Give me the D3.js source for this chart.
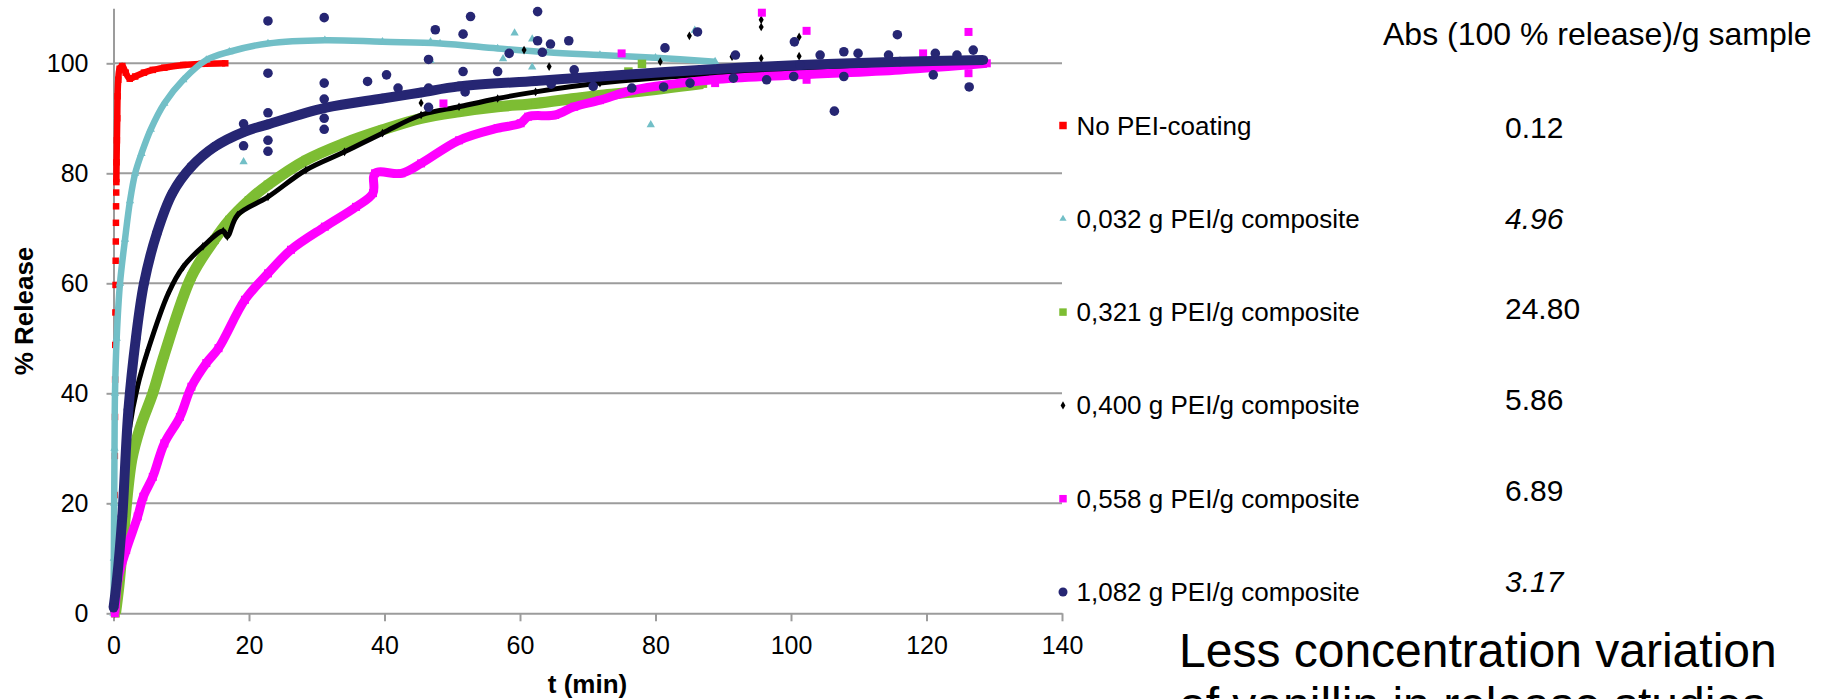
<!DOCTYPE html>
<html lang="en">
<head>
<meta charset="UTF-8">
<title>Vanillin release, PEI coated composites</title>
<script src="https://cdn.jsdelivr.net/npm/d3@7"></script>
<style>
    body { margin: 0; background: #fff; }
    svg { display: block; font-family: "Liberation Sans", Arial, sans-serif; }
</style>
</head>
<body>
<div id="chart"></div>
<script>
// release curves: [t (min), % release]
const noPei = [[0.1,0],[0.12,4.8],[0.14,9.3],[0.16,14.8],[0.18,21.5],[0.2,28.6],[0.22,35.7],[0.24,42.5],
    [0.26,48.8],[0.28,54.7],[0.3,59.7],[0.32,64.1],[0.34,67.6],[0.36,71],[0.38,74],[0.4,76.5],[0.42,78.4],
    [0.45,82],[0.5,86],[0.55,90],[0.6,94],[0.7,97],[0.9,99],[1.3,99.5],[1.8,98.3],[2.4,97.2],[3.2,97.6],
    [4.5,98.3],[5.8,98.8],[7.5,99.2],[10.3,99.7],[13,99.9],[16.5,100]];

const pei032 = [[0,0],[0.05,10],[0.1,20],[0.15,30],[0.22,40],[0.47,50],[0.96,60],[1.7,68],[2.44,75],[3.2,80],
    [4.13,83.6],[5.5,88],[7.5,92.7],[10.3,97],[13.7,100.6],[17.1,102.1],[22.8,103.6],[31.2,104.2],[39.7,103.9],
    [48.2,103.6],[56.7,102.7],[64,102],[71.8,101.5],[80,101],[88.8,100.3]];
const pei032Out = [[19.2,82.1],[46.8,103.9],[46.8,100.5],[57.5,100.8],[59.2,105.5],[61.8,104.4],[61.8,99.3],
    [79.3,88.8],[85.8,106]];

const pei321 = [[0.3,0],[0.8,5],[1.3,11.5],[2.7,27.9],[4,34],[5.8,40],[7.5,47],[11.5,61.2],[14.9,67.9],
    [17.1,71.5],[20,75.1],[22.8,77.9],[28.4,82.4],[34.1,85.5],[39.7,87.9],[45.4,90],[51,91.2],[56.7,92.1],
    [62.3,92.7],[68,93.6],[72,94.2],[77,94.8],[87,96.3]];
const pei321Out = [[78,99.9],[76,98.5]];

const pei400 = [[0.2,0],[0.8,12],[1.5,22],[2.4,33.9],[3.5,41],[5.1,47.9],[8.1,58.2],[10.3,63],[13.2,66.7],
    [16.2,69.5],[16.8,68.5],[18.3,72.4],[22.8,75.7],[28.4,80.6],[34.1,83.9],[39.7,87.3],[45.4,90.6],[51,92.1],
    [56.7,93.6],[62.3,94.8],[71.8,96.4],[85,97.8],[100,98.7],[115,99.2],[126,99.6]];
const pei400Out = [[45.4,92.8],[60.6,102.4],[64.3,99.4],[80.7,100.3],[85,105],[91.3,101.2],[95.6,107.9],
    [95.6,106.6],[95.6,100.9],[101.2,104.8],[101.2,101.3]];

const pei558 = [[0.2,0],[0.74,6.7],[1.87,11.5],[3.57,17.6],[4.4,21.2],[5.8,24.8],[7.5,30.9],[9.8,35.7],
    [11.5,41.2],[13.7,45.5],[15.5,48.2],[19.4,57],[22.8,61.8],[26.2,66.1],[31.2,70.3],[35.8,73.9],[38.3,76.4],
    [38.6,80],[42.5,80],[45.4,81.8],[51,86],[56.7,88.2],[60.1,89.1],[61.2,90.3],[65.2,90.6],[68,92.1],
    [71.8,93.3],[76.7,95.1],[88.5,97],[101.3,97.9],[116.1,98.8],[128.9,100]];
const pei558Out = [[48.7,92.7],[75,101.8],[88.8,96.4],[95.7,109.2],[102.3,105.9],[102.3,97],[119.5,101.8],
    [126.2,105.7],[126.2,98.2]];

const pei1082 = [[0,1],[0.5,6],[1.3,17.6],[2.2,37],[3.3,50],[4.5,60],[6.4,69.1],[8.7,76.4],[11.5,81.2],
    [14.9,84.8],[19.4,87.6],[22.8,88.9],[31.2,91.9],[39.7,93.6],[45.4,94.7],[51,95.8],[62.3,96.8],[71.8,97.6],
    [86.6,98.8],[101.3,99.7],[116.1,100.3],[128.4,100.6]];
const pei1082Out = [[22.8,107.7],[22.8,98.2],[31.1,108.3],[31.1,96.4],[46.5,100.7],[47.5,106.1],[51.6,105.3],
    [52.7,108.5],[58.4,101.8],[62.6,109.4],[62.6,104.1],[63.3,102],[64.5,103.5],[67.2,104.1],[81.4,102.8],
    [86.2,105.7],[100.5,103.9],[106.4,91.3],[115.7,105.2],[126.3,95.7],[126.9,102.4],
    [19.2,85],[19.2,89],[22.8,84],[22.8,86],[22.8,91],[31.1,88],[31.1,90],[31.1,93.5],[46.5,92],[46.5,95.5],
    [37.5,96.7],[40.3,97.9],[42,95.5],[51.6,98.5],[51.9,94.8],[56.7,98.5],[64.6,96.2],[68,98.8],[70.8,95.8],
    [76.5,95.5],[81.2,95.7],[85.1,96.4],[91.5,97.3],[91.8,101.5],[96.4,97],[100.4,97.6],[104.3,101.5],
    [107.8,102.1],[107.8,97.6],[109.9,101.8],[114.4,101.5],[121,97.9],[121.3,101.8],[124.5,101.5]];

const seriesNames = ["No PEI-coating", "0,032 g PEI/g composite", "0,321 g PEI/g composite",
    "0,400 g PEI/g composite", "0,558 g PEI/g composite", "1,082 g PEI/g composite"];
const absValues = ["0.12", "4.96", "24.80", "5.86", "6.89", "3.17"];

const tTicks = [0, 20, 40, 60, 80, 100, 120, 140];
const releaseTicks = [0, 20, 40, 60, 80, 100];

// drawing setup
let width = 1832;
let height = 699;
let gridColor = "#9c9c9c";

let svg = d3.select("#chart").append("svg")
    .attr("width", width)
    .attr("height", height);

let x = d3.scaleLinear().domain([0, 140]).range([113.5, 1062]);
let y = d3.scaleLinear().domain([0, 110]).range([613.3, 8.3]);

// horizontal gridlines
svg.append("g")
    .selectAll("line")
    .data(releaseTicks.filter(d => d > 0))
    .join("line")
    .attr("x1", x(0))
    .attr("x2", x(140))
    .attr("y1", d => y(d))
    .attr("y2", d => y(d))
    .attr("stroke", gridColor)
    .attr("stroke-width", 2);

let xAxis = d3.axisBottom(x).tickValues(tTicks).tickSize(8).tickSizeOuter(0).tickPadding(15);
let yAxis = d3.axisLeft(y).tickValues(releaseTicks).tickSize(7).tickSizeOuter(0).tickPadding(18);

let gx = svg.append("g")
    .attr("transform", `translate(0, ${y(0)})`)
    .call(xAxis);
let gy = svg.append("g")
    .attr("transform", `translate(${x(0)}, 0)`)
    .call(yAxis);

[gx, gy].forEach(g => {
    g.selectAll("path, line").attr("stroke", gridColor).attr("stroke-width", 2);
    g.selectAll("text").attr("fill", "#000").style("font-size", "25px");
});

// series styles, in Excel's drawing order
let styles = [
    { data: noPei, out: [], color: "#ff0000", lineW: 6.5, shape: d3.symbolSquare, size: 42, lineFrom: 78, legendSize: 56 },
    { data: pei032, out: pei032Out, color: "#72bfc7", lineW: 6.5, shape: d3.symbolTriangle, size: 30, lineFrom: -1, legendSize: 22 },
    { data: pei321, out: pei321Out, color: "#7dbd33", lineW: 11, shape: d3.symbolSquare, size: 72, lineFrom: -1, legendSize: 56 },
    { data: pei400, out: pei400Out, color: "#000000", lineW: 5, shape: d3.symbolDiamond, size: 22, lineFrom: -1, legendSize: 20 },
    { data: pei558, out: pei558Out, color: "#ff00ff", lineW: 9, shape: d3.symbolSquare, size: 64, lineFrom: -1, legendSize: 56 },
    { data: pei1082, out: pei1082Out, color: "#262673", lineW: 10, shape: d3.symbolCircle, size: 72, lineFrom: -1, legendSize: 64 }
];

let line = d3.line()
    .x(d => x(d[0]))
    .y(d => y(d[1]))
    .curve(d3.curveCatmullRom.alpha(0.5));

let plot = svg.append("g");

styles.forEach(s => {
    let g = plot.append("g");
    g.append("path")
        .datum(s.data.filter(d => d[1] >= s.lineFrom))
        .attr("d", line)
        .attr("fill", "none")
        .attr("stroke", s.color)
        .attr("stroke-width", s.lineW)
        .attr("stroke-linejoin", "round");
    g.selectAll("path.pt")
        .data(s.data.concat(s.out))
        .join("path")
        .attr("class", "pt")
        .attr("transform", d => `translate(${x(d[0])}, ${y(d[1])})`)
        .attr("d", d3.symbol().type(s.shape).size(s.size))
        .attr("fill", s.color);
});

// legend
let legend = svg.append("g");
seriesNames.forEach((name, i) => {
    let cy = 125.5 + i * 93.3;
    legend.append("path")
        .attr("transform", `translate(1063, ${cy})`)
        .attr("d", d3.symbol().type(styles[i].shape).size(styles[i].legendSize))
        .attr("fill", styles[i].color);
    legend.append("text")
        .attr("x", 1076.5)
        .attr("y", cy + 9)
        .style("font-size", "26px")
        .text(name);
});

// absorbance column
let italicRows = [1, 5];
svg.append("text")
    .attr("x", 1383)
    .attr("y", 45)
    .style("font-size", "32px")
    .text("Abs (100 % release)/g sample");

absValues.forEach((v, i) => {
    svg.append("text")
        .attr("x", 1505)
        .attr("y", 138 + i * 90.7)
        .style("font-size", "30px")
        .style("font-style", italicRows.includes(i) ? "italic" : "normal")
        .text(v);
});

// axis titles
svg.append("text")
    .attr("transform", "translate(33, 311) rotate(-90)")
    .attr("text-anchor", "middle")
    .style("font-size", "26px")
    .style("font-weight", "bold")
    .text("% Release");

svg.append("text")
    .attr("x", 587.5)
    .attr("y", 693)
    .attr("text-anchor", "middle")
    .style("font-size", "26px")
    .style("font-weight", "bold")
    .text("t (min)");

// slide caption, cut off at the bottom edge as in the slide
svg.append("text")
    .attr("x", 1179)
    .attr("y", 667)
    .style("font-size", "48px")
    .text("Less concentration variation");
svg.append("text")
    .attr("x", 1179)
    .attr("y", 721)
    .style("font-size", "48px")
    .text("of vanillin in release studies");
</script>
</body>
</html>
